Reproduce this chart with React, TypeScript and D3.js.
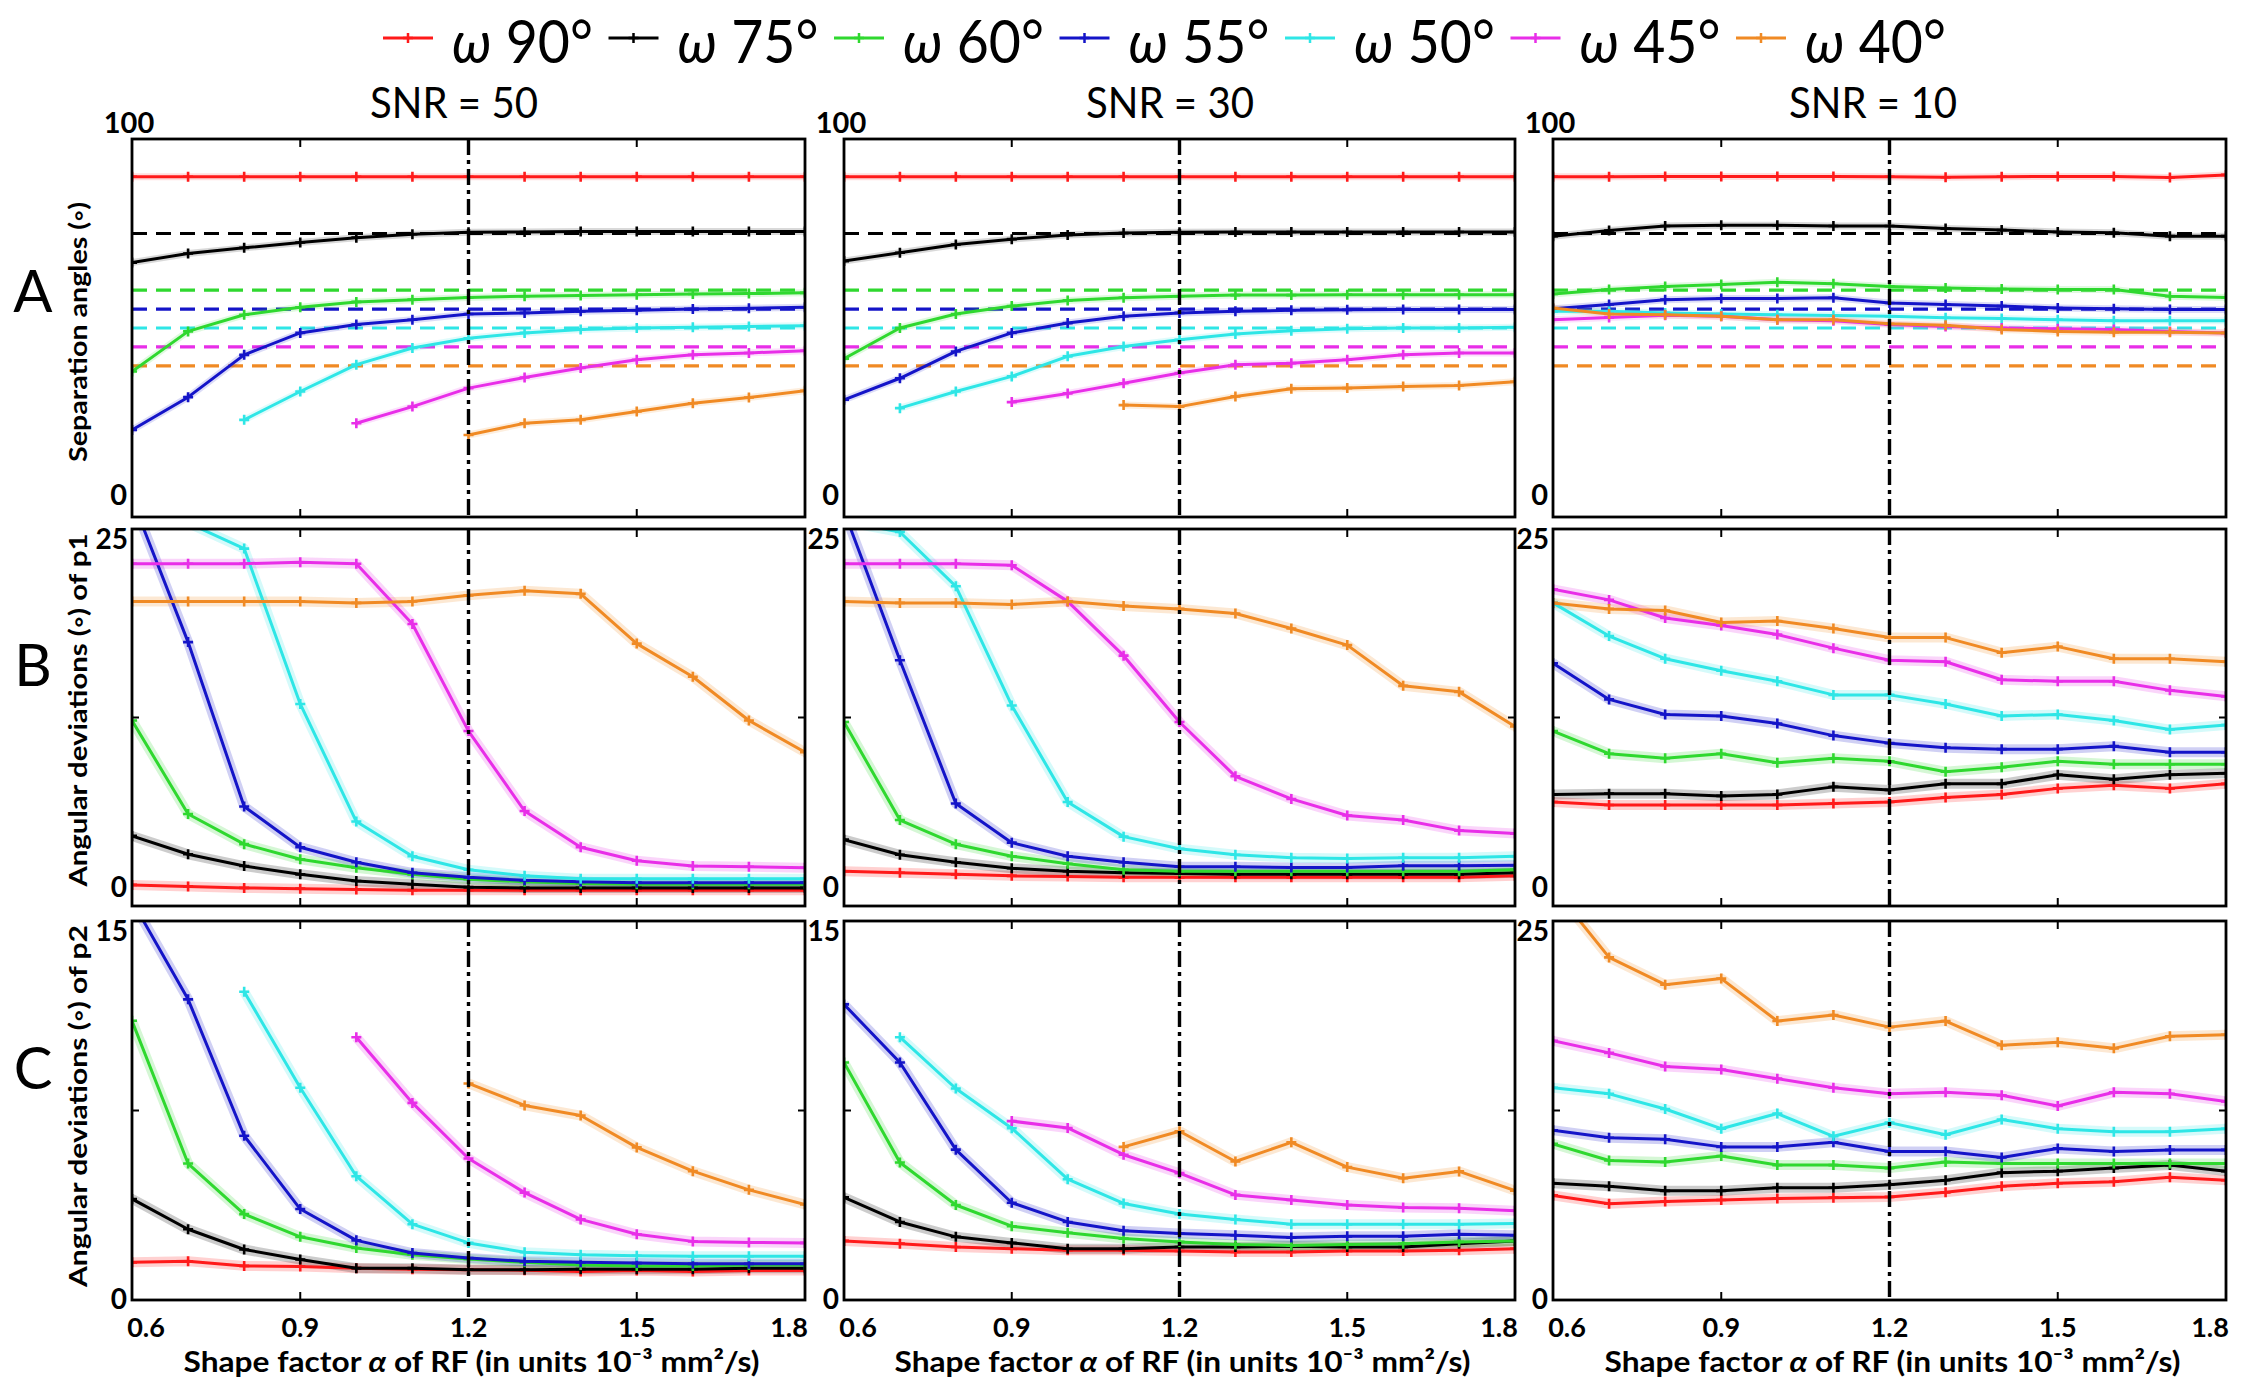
import React from 'react';
import * as d3 from 'd3';

// ---------- data ----------
const alphas = [0.6, 0.7, 0.8, 0.9, 1.0, 1.1, 1.2, 1.3, 1.4, 1.5, 1.6, 1.7, 1.8];
const omegaLabels = ['90°', '75°', '60°', '55°', '50°', '45°', '40°'];
const trueAngles = [90, 75, 60, 55, 50, 45, 40];
const seriesColors = ['#ff1a1a', '#000000', '#2fd82f', '#1414c8', '#2ee6e6', '#e82ee8', '#f08a24'];
const snrTitles = ['SNR = 50', 'SNR = 30', 'SNR = 10'];
const rowLetters = ['A', 'B', 'C'];
const rowTitles = ['Separation angles (◦)', 'Angular deviations (◦) of p1', 'Angular deviations (◦) of p2'];
const xTicks = [0.6, 0.9, 1.2, 1.5, 1.8];
const xTickLabels = ['0.6', '0.9', '1.2', '1.5', '1.8'];
const yMaxRowA = [100, 100, 100];
const yMaxRowB = [25, 25, 25];
const yMaxRowC = [15, 15, 25];
const N = null;

// Row A: separation angles
const sepSNR50 = [
  [90, 90, 90, 90, 90, 90, 90, 90, 90, 90, 90, 90, 90],
  [67.3, 69.7, 71.2, 72.6, 73.9, 74.8, 75.3, 75.4, 75.5, 75.5, 75.5, 75.5, 75.5],
  [38.5, 49.1, 53.5, 55.5, 56.9, 57.5, 58.1, 58.4, 58.6, 58.8, 59.0, 59.1, 59.3],
  [23.0, 31.7, 42.9, 48.7, 50.9, 52.2, 53.7, 54.0, 54.4, 54.7, 55.0, 55.2, 55.5],
  [N, N, 25.7, 33.2, 40.3, 44.7, 47.3, 48.7, 49.6, 50.0, 50.2, 50.4, 50.6],
  [N, N, N, N, 24.8, 29.2, 34.1, 36.9, 39.4, 41.6, 42.9, 43.4, 44.0],
  [N, N, N, N, N, N, 21.7, 24.8, 25.7, 27.9, 30.1, 31.6, 33.4],
];
const sepSNR30 = [
  [90, 90, 90, 90, 90, 90, 90, 90, 90, 90, 90, 90, 90],
  [67.7, 69.9, 72.1, 73.5, 74.6, 75.1, 75.3, 75.4, 75.4, 75.4, 75.4, 75.4, 75.4],
  [41.9, 50.0, 53.7, 55.8, 57.3, 58.0, 58.4, 58.7, 58.7, 58.8, 58.8, 58.8, 58.8],
  [31.0, 36.7, 43.8, 48.7, 51.3, 53.1, 54.0, 54.4, 54.7, 54.8, 54.9, 54.9, 54.9],
  [N, 28.8, 33.2, 37.2, 42.5, 45.1, 46.9, 48.4, 49.3, 49.8, 50.0, 50.0, 50.2],
  [N, N, N, 30.4, 32.7, 35.4, 38.1, 40.3, 40.7, 41.6, 42.9, 43.4, 43.4],
  [N, N, N, N, N, 29.6, 29.2, 31.9, 33.9, 34.1, 34.5, 34.8, 35.8],
];
const sepSNR10 = [
  [90, 90, 90.1, 90.1, 90.1, 90.1, 90, 89.9, 90, 90.1, 90.1, 89.8, 90.5],
  [74.3, 75.8, 77.0, 77.2, 77.2, 77.0, 77.0, 76.3, 75.9, 75.4, 75.2, 74.3, 74.3],
  [59.0, 60.2, 61.0, 61.5, 62.1, 61.7, 61.0, 60.6, 60.3, 60.2, 60.2, 58.4, 58.1],
  [55.1, 56.2, 57.5, 57.8, 57.8, 58.0, 56.6, 56.2, 55.8, 55.3, 55.1, 54.9, 54.9],
  [54.4, 54.4, 54.0, 53.7, 53.5, 53.3, 53.1, 52.7, 52.5, 52.2, 51.9, 51.9, 51.9],
  [52.2, 52.8, 53.4, 53.1, 52.2, 51.9, 50.9, 50.4, 50.0, 49.8, 49.6, 49.1, 48.7],
  [55.3, 53.7, 53.5, 53.1, 52.2, 52.2, 51.1, 50.7, 49.6, 49.1, 48.9, 48.9, 48.7],
];

// Row B: angular deviation of p1
const devP1SNR50 = [
  [1.4, 1.3, 1.2, 1.15, 1.1, 1.05, 1.05, 1.05, 1.05, 1.05, 1.05, 1.05, 1.05],
  [4.65, 3.43, 2.65, 2.10, 1.66, 1.44, 1.25, 1.2, 1.2, 1.2, 1.2, 1.2, 1.2],
  [12.3, 6.1, 4.1, 3.1, 2.54, 2.1, 1.77, 1.6, 1.5, 1.45, 1.45, 1.45, 1.45],
  [27.0, 17.5, 6.6, 3.9, 2.9, 2.2, 1.9, 1.7, 1.6, 1.55, 1.55, 1.55, 1.55],
  [30.0, 25.4, 23.7, 13.4, 5.6, 3.3, 2.4, 2.0, 1.8, 1.8, 1.8, 1.8, 1.8],
  [22.7, 22.7, 22.7, 22.8, 22.7, 18.7, 11.6, 6.3, 3.9, 3.0, 2.65, 2.6, 2.54],
  [20.2, 20.2, 20.2, 20.2, 20.1, 20.2, 20.6, 20.9, 20.7, 17.4, 15.2, 12.3, 10.2],
];
const devP1SNR30 = [
  [2.3, 2.2, 2.1, 2.0, 1.95, 1.9, 1.9, 1.9, 1.9, 1.9, 1.9, 1.9, 2.0],
  [4.4, 3.4, 2.9, 2.5, 2.3, 2.2, 2.15, 2.1, 2.1, 2.1, 2.1, 2.1, 2.2],
  [12.2, 5.7, 4.1, 3.3, 2.8, 2.4, 2.3, 2.3, 2.3, 2.3, 2.3, 2.3, 2.4],
  [26.2, 16.3, 6.8, 4.2, 3.3, 2.9, 2.6, 2.6, 2.55, 2.55, 2.67, 2.67, 2.7],
  [25.5, 24.8, 21.2, 13.3, 6.9, 4.6, 3.8, 3.4, 3.2, 3.15, 3.2, 3.2, 3.3],
  [22.7, 22.7, 22.7, 22.6, 20.2, 16.6, 12.2, 8.6, 7.1, 6.0, 5.7, 5.0, 4.8],
  [20.2, 20.1, 20.1, 20.0, 20.2, 19.9, 19.7, 19.4, 18.4, 17.3, 14.6, 14.2, 11.9],
];
const devP1SNR10 = [
  [6.9, 6.7, 6.7, 6.7, 6.7, 6.8, 6.9, 7.2, 7.4, 7.8, 8.0, 7.8, 8.1],
  [7.4, 7.45, 7.45, 7.3, 7.4, 7.9, 7.7, 8.1, 8.1, 8.7, 8.4, 8.7, 8.8],
  [11.6, 10.1, 9.8, 10.1, 9.5, 9.8, 9.6, 8.9, 9.2, 9.6, 9.4, 9.4, 9.4],
  [16.1, 13.7, 12.7, 12.6, 12.1, 11.3, 10.8, 10.5, 10.4, 10.4, 10.6, 10.2, 10.2],
  [20.1, 17.9, 16.4, 15.6, 14.9, 14.0, 14.0, 13.4, 12.6, 12.7, 12.3, 11.7, 12.0],
  [21.0, 20.3, 19.1, 18.6, 18.0, 17.1, 16.3, 16.2, 15.0, 14.9, 14.9, 14.3, 13.9],
  [20.1, 19.7, 19.6, 18.8, 18.9, 18.4, 17.8, 17.8, 16.8, 17.2, 16.4, 16.4, 16.2],
];

// Row C: angular deviation of p2
const devP2SNR50 = [
  [1.49, 1.53, 1.35, 1.33, 1.26, 1.22, 1.2, 1.18, 1.13, 1.17, 1.13, 1.17, 1.17],
  [4.0, 2.8, 2.0, 1.6, 1.26, 1.26, 1.2, 1.2, 1.22, 1.22, 1.22, 1.26, 1.26],
  [11.05, 5.4, 3.4, 2.5, 2.06, 1.79, 1.62, 1.49, 1.39, 1.35, 1.35, 1.39, 1.39],
  [15.8, 11.9, 6.5, 3.6, 2.36, 1.86, 1.66, 1.53, 1.49, 1.46, 1.43, 1.43, 1.43],
  [N, N, 12.2, 8.4, 4.9, 3.0, 2.26, 1.89, 1.79, 1.75, 1.73, 1.73, 1.73],
  [N, N, N, N, 10.4, 7.8, 5.6, 4.25, 3.19, 2.6, 2.32, 2.28, 2.26],
  [N, N, N, N, N, N, 8.57, 7.7, 7.3, 6.04, 5.1, 4.36, 3.78],
];
const devP2SNR30 = [
  [2.34, 2.23, 2.1, 2.03, 1.97, 1.97, 1.94, 1.9, 1.9, 1.94, 1.94, 1.97, 2.03],
  [4.06, 3.09, 2.5, 2.26, 2.03, 2.03, 2.1, 2.1, 2.13, 2.1, 2.1, 2.23, 2.34],
  [9.4, 5.44, 3.76, 2.92, 2.66, 2.43, 2.3, 2.2, 2.16, 2.2, 2.23, 2.3, 2.34],
  [11.7, 9.4, 5.95, 3.85, 3.09, 2.74, 2.63, 2.56, 2.47, 2.52, 2.52, 2.6, 2.56],
  [N, 10.4, 8.37, 6.8, 4.78, 3.82, 3.4, 3.19, 3.0, 3.0, 3.0, 3.0, 3.03],
  [N, N, N, 7.08, 6.81, 5.75, 5.02, 4.16, 3.96, 3.76, 3.66, 3.63, 3.53],
  [N, N, N, N, N, 6.06, 6.68, 5.48, 6.24, 5.26, 4.82, 5.09, 4.33],
];
const devP2SNR10 = [
  [6.9, 6.35, 6.5, 6.6, 6.7, 6.75, 6.8, 7.1, 7.5, 7.7, 7.8, 8.1, 7.9],
  [7.7, 7.5, 7.2, 7.2, 7.4, 7.4, 7.6, 7.9, 8.4, 8.5, 8.7, 8.9, 8.5],
  [10.3, 9.2, 9.1, 9.5, 8.9, 8.9, 8.7, 9.1, 9.0, 9.0, 9.0, 9.0, 9.0],
  [11.2, 10.7, 10.6, 10.1, 10.1, 10.4, 9.8, 9.8, 9.4, 10.0, 9.8, 9.9, 9.9],
  [14.0, 13.6, 12.6, 11.3, 12.3, 10.8, 11.7, 10.9, 11.9, 11.3, 11.1, 11.1, 11.3],
  [17.1, 16.3, 15.4, 15.2, 14.6, 14.0, 13.6, 13.7, 13.5, 12.8, 13.7, 13.6, 13.1],
  [27.2, 22.6, 20.8, 21.2, 18.4, 18.8, 18.0, 18.4, 16.8, 17.0, 16.6, 17.4, 17.5],
];

// ---------- layout ----------
const W = 2241;
const H = 1380;
const colBounds = [[132, 805], [844, 1515], [1553, 2226]];
const rowBounds = [[139, 517], [529, 906], [921, 1300]];
const FONT = "Lato, 'Open Sans', 'DejaVu Sans', sans-serif";

const panelSeries = [
  [sepSNR50, sepSNR30, sepSNR10],
  [devP1SNR50, devP1SNR30, devP1SNR10],
  [devP2SNR50, devP2SNR30, devP2SNR10],
];
const panelYMax = [yMaxRowA, yMaxRowB, yMaxRowC];

function plusPath(x: number, y: number, s = 5) {
  return `M${x - s},${y}H${x + s}M${x},${y - s}V${y + s}`;
}

function Panel({ r, c }: { r: number; c: number }) {
  const [x0, x1] = colBounds[c];
  const [y0, y1] = rowBounds[r];
  const yMax = panelYMax[r][c];
  const x = d3.scaleLinear().domain([0.6, 1.8]).range([x0, x1]);
  const y = d3.scaleLinear().domain([0, yMax]).range([y1, y0]);
  const series = panelSeries[r][c];
  const clipId = `clip-${r}-${c}`;
  const line = d3
    .line<number | null>()
    .defined((d) => d !== null)
    .x((_, i) => x(alphas[i]))
    .y((d) => y(d as number));

  const haloW = r === 0 ? 7 : 10;
  const haloOp = r === 0 ? 0.15 : 0.2;

  return (
    <g>
      <defs>
        <clipPath id={clipId}>
          <rect x={x0} y={y0} width={x1 - x0} height={y1 - y0} />
        </clipPath>
      </defs>
      <rect x={x0} y={y0} width={x1 - x0} height={y1 - y0} fill="#fff" />
      <g clipPath={`url(#${clipId})`}>
        {r === 0 &&
          trueAngles.slice(1).map((v, i) => (
            <line
              key={`ref${i}`}
              x1={x0}
              x2={x1}
              y1={y(v)}
              y2={y(v)}
              stroke={seriesColors[i + 1]}
              strokeWidth={3.2}
              strokeDasharray="15 9"
            />
          ))}
        {series.map((vals, si) => (
          <path
            key={`h${si}`}
            d={line(vals) || ''}
            fill="none"
            stroke={seriesColors[si]}
            strokeOpacity={haloOp}
            strokeWidth={haloW}
            strokeLinejoin="round"
          />
        ))}
        {series.map((vals, si) => (
          <g key={`s${si}`}>
            <path
              d={line(vals) || ''}
              fill="none"
              stroke={seriesColors[si]}
              strokeWidth={3}
              strokeLinejoin="round"
            />
            <path
              d={vals
                .map((v, i) => (v === null ? '' : plusPath(x(alphas[i]), y(v))))
                .join('')}
              stroke={seriesColors[si]}
              strokeWidth={2.6}
            />
          </g>
        ))}
        <line
          x1={x(1.2)}
          x2={x(1.2)}
          y1={y0}
          y2={y1}
          stroke="#000"
          strokeWidth={3.4}
          strokeDasharray="16 5 4 5"
        />
      </g>
      {/* ticks */}
      {[0.9, 1.5].map((t) => (
        <g key={`t${t}`}>
          <line x1={x(t)} x2={x(t)} y1={y0} y2={y0 + 8} stroke="#000" strokeWidth={2} />
          <line x1={x(t)} x2={x(t)} y1={y1} y2={y1 - 8} stroke="#000" strokeWidth={2} />
        </g>
      ))}
      {r > 0 && (
        <g>
          <line x1={x0} x2={x0 + 7} y1={y(yMax / 2)} y2={y(yMax / 2)} stroke="#000" strokeWidth={2} />
          <line x1={x1} x2={x1 - 7} y1={y(yMax / 2)} y2={y(yMax / 2)} stroke="#000" strokeWidth={2} />
        </g>
      )}
      <rect x={x0} y={y0} width={x1 - x0} height={y1 - y0} fill="none" stroke="#000" strokeWidth={2.8} />
      {/* y tick labels */}
      {r === 0 ? (
        <g fontSize={29} fontWeight="bold">
          <text x={x0 - 3} y={y0 - 6} textAnchor="middle">{String(yMax)}</text>
          <text x={x0 - 5} y={y1 - 12} textAnchor="end">0</text>
        </g>
      ) : (
        <g fontSize={28} fontWeight="bold">
          <text x={x0 - 4} y={y0 + 20} textAnchor="end">{String(yMax)}</text>
          <text x={x0 - 5} y={r === 1 ? y1 - 9 : y1 + 9} textAnchor="end">0</text>
        </g>
      )}
      {/* x tick labels */}
      {r === 2 &&
        xTicks.map((t, i) => (
          <text
            key={`xl${i}`}
            x={x(t) + (i === 0 ? 14 : i === xTicks.length - 1 ? -16 : 0)}
            y={1337}
            textAnchor="middle"
            fontSize={27}
            fontWeight="bold"
          >
            {xTickLabels[i]}
          </text>
        ))}
      {r === 2 && (
        <text
          x={(x0 + x1) / 2 + 3}
          y={1372}
          textAnchor="middle"
          fontSize={29}
          fontWeight="bold"
          textLength={576}
          lengthAdjust="spacingAndGlyphs"
        >
          Shape factor <tspan fontStyle="italic">α</tspan> of RF (in units 10⁻³ mm²/s)
        </text>
      )}
    </g>
  );
}

export default function App() {
  const legendStart = 383;
  const legendStep = 225.5;
  const snrCenters = [454, 1170, 1873];
  const rowTitleCenters = [332, 710, 1106];
  const rowTitleLengths = [260, 353, 362];
  const letterBaselines = [312, 686, 1089];

  return (
    <svg
      width={W}
      height={H}
      style={{ position: 'absolute', left: 0, top: 0, background: '#fff' }}
      fontFamily={FONT}
    >
      <rect width={W} height={H} fill="#fff" />
      {/* legend */}
      {omegaLabels.map((lab, i) => {
        const lx = legendStart + i * legendStep;
        return (
          <g key={`lg${i}`}>
            <line x1={lx} x2={lx + 50} y1={38} y2={38} stroke={seriesColors[i]} strokeWidth={3} />
            <path d={plusPath(lx + 25, 38, 5)} stroke={seriesColors[i]} strokeWidth={2.5} />
            <text
              x={lx + 69}
              y={63}
              fontSize={60}
              fontWeight={400}
              textLength={141}
              lengthAdjust="spacingAndGlyphs"
            >
              <tspan fontStyle="italic">ω</tspan> {lab}
            </text>
          </g>
        );
      })}
      {/* SNR titles */}
      {snrTitles.map((t, i) => (
        <text
          key={`snr${i}`}
          x={snrCenters[i]}
          y={118}
          textAnchor="middle"
          fontSize={43}
          textLength={168}
          lengthAdjust="spacingAndGlyphs"
        >
          {t}
        </text>
      ))}
      {/* row letters */}
      {rowLetters.map((l, i) => (
        <text key={`rl${i}`} x={33} y={letterBaselines[i]} textAnchor="middle" fontSize={58}>
          {l}
        </text>
      ))}
      {/* row titles */}
      {rowTitles.map((t, i) => (
        <text
          key={`rt${i}`}
          transform={`translate(${87},${rowTitleCenters[i]}) rotate(-90)`}
          textAnchor="middle"
          fontSize={24}
          fontWeight="bold"
          textLength={rowTitleLengths[i]}
          lengthAdjust="spacingAndGlyphs"
        >
          {t}
        </text>
      ))}
      {rowBounds.map((_, r) => colBounds.map((__, c) => <Panel key={`p${r}${c}`} r={r} c={c} />))}
    </svg>
  );
}
